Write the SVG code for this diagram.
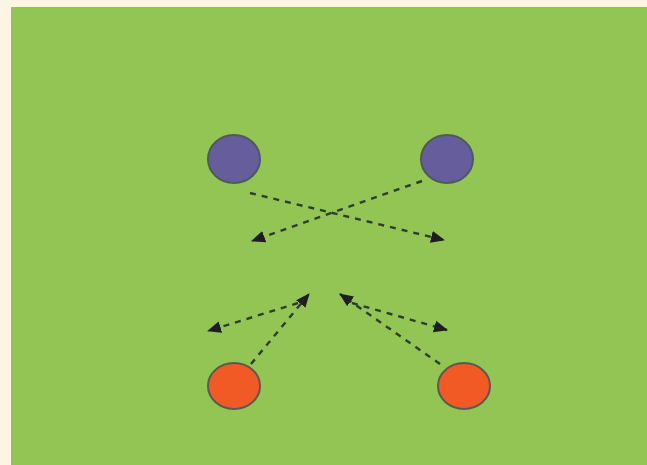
<svg xmlns="http://www.w3.org/2000/svg" width="647" height="465" viewBox="0 0 647 465">
  <style>
    .field { fill: #92c553; }
    .blue { fill: #655d9c; stroke: #4f5a5a; stroke-width: 2; }
    .red { fill: #f15a24; stroke: #5a5a4f; stroke-width: 2; }
    .pass { fill: none; stroke: #2e3d2e; stroke-width: 2.4; stroke-dasharray: 6 6; marker-end: url(#head); }
  </style>
  <defs>
    <!-- solid pass arrowhead -->
    <marker id="head" viewBox="0 0 14 14" refX="13" refY="7" markerWidth="14" markerHeight="14" markerUnits="userSpaceOnUse" orient="auto">
      <path d="M0,1 L14,7 L0,13 Z" fill="#1e1e1e"/>
    </marker>
  </defs>
  <rect width="647" height="465" fill="#fdf5e4"/>
  <rect class="field" x="11" y="7" width="636" height="458"/>
  <g id="connectors">
    <path class="pass" d="M250,193 L444,240"/>
    <path class="pass" d="M422,181 L252,241"/>
    <path class="pass" d="M251,364 L309,294"/>
    <path class="pass" d="M298,303 L208,331"/>
    <path class="pass" d="M440,364 L340,294"/>
    <path class="pass" d="M352,303 L447,330"/>
  </g>
  <g id="player-blue-left"><ellipse class="blue" cx="234" cy="159" rx="26" ry="24"/></g>
  <g id="player-blue-right"><ellipse class="blue" cx="447" cy="159" rx="26" ry="24"/></g>
  <g id="player-red-left"><ellipse class="red" cx="234" cy="386" rx="26" ry="23"/></g>
  <g id="player-red-right"><ellipse class="red" cx="464" cy="386" rx="26" ry="23"/></g>
</svg>
